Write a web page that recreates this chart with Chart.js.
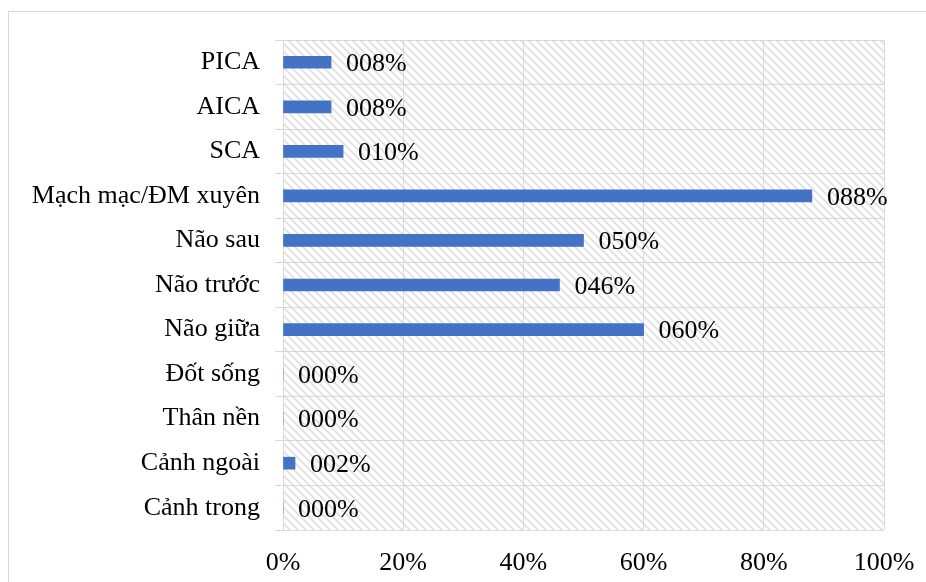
<!DOCTYPE html>
<html>
<head>
<meta charset="utf-8">
<script src="https://cdn.jsdelivr.net/npm/chart.js@4/dist/chart.umd.min.js"></script>
<style>
  html, body { margin: 0; padding: 0; background: #ffffff; }
  #wrap { width: 926px; height: 582px; position: relative; }
</style>
</head>
<body>
<div id="wrap"><canvas id="c" width="926" height="582"></canvas></div>
<script>
// Vessel territories, listed top to bottom
const categories = [
  'PICA', 'AICA', 'SCA', 'Mạch mạc/ĐM xuyên', 'Não sau', 'Não trước',
  'Não giữa', 'Đốt sống', 'Thân nền', 'Cảnh ngoài', 'Cảnh trong'
];
// Share of cases per territory (%)
const percentages = [8, 8, 10, 88, 50, 46, 60, 0, 0, 2, 0];
// Horizontal axis ticks (%)
const tickValues = [0, 20, 40, 60, 80, 100];

const FONT = '"Liberation Serif", "Times New Roman", serif';
const FONT_SIZE = 26;
const GRID = '#d9d9d9';

// Diagonal hatch tile for the plot background
function makeHatch(ctx) {
  const t = document.createElement('canvas');
  t.width = 8; t.height = 8;
  const g = t.getContext('2d');
  g.fillStyle = '#ffffff';
  g.fillRect(0, 0, 8, 8);
  g.strokeStyle = '#e0e0e0';
  g.lineWidth = 1.8;
  g.beginPath();
  g.moveTo(-1, -1); g.lineTo(9, 9);
  g.moveTo(-1, 7); g.lineTo(1, 9);
  g.moveTo(7, -1); g.lineTo(9, 1);
  g.stroke();
  return ctx.createPattern(t, 'repeat');
}

const decor = {
  id: 'decor',
  beforeDraw(chart) {
    const { ctx, chartArea: a } = chart;
    ctx.save();
    ctx.fillStyle = '#ffffff';
    ctx.fillRect(0, 0, chart.width, chart.height);
    ctx.strokeStyle = GRID;
    ctx.lineWidth = 1;
    ctx.strokeRect(8.5, 11.5, 930, 600);
    ctx.fillStyle = makeHatch(ctx);
    ctx.fillRect(a.left, a.top, a.right - a.left, a.bottom - a.top);
    ctx.restore();
  },
  afterDatasetsDraw(chart) {
    const { ctx } = chart;
    const meta = chart.getDatasetMeta(0);
    const vals = chart.data.datasets[0].data;
    ctx.save();
    ctx.font = FONT_SIZE + 'px ' + FONT;
    ctx.fillStyle = '#000000';
    ctx.textAlign = 'left';
    ctx.textBaseline = 'middle';
    meta.data.forEach((bar, i) => {
      const txt = String(Math.round(vals[i])).padStart(3, '0') + '%';
      ctx.fillText(txt, bar.x + 15, bar.y + 2);
    });
    ctx.restore();
  }
};

new Chart(document.getElementById('c'), {
  type: 'bar',
  data: {
    labels: categories,
    datasets: [{
      data: percentages,
      backgroundColor: '#4472C4',
      borderWidth: 0,
      barThickness: 12
    }]
  },
  plugins: [decor],
  options: {
    indexAxis: 'y',
    responsive: false,
    animation: false,
    devicePixelRatio: 1,
    layout: { padding: { top: 40, right: 42, bottom: 0, left: 0 } },
    plugins: { legend: { display: false }, tooltip: { enabled: false } },
    scales: {
      x: {
        min: 0, max: 100,
        afterBuildTicks(s) { s.ticks = tickValues.map(v => ({ value: v })); },
        afterFit(s) { s.height = 52; s.paddingLeft = 0; s.paddingRight = 0; },
        grid: { color: GRID, lineWidth: 1, drawTicks: false },
        border: { display: false },
        ticks: {
          color: '#000000',
          font: { family: FONT, size: FONT_SIZE },
          padding: 18,
          maxRotation: 0,
          callback: v => v + '%'
        }
      },
      y: {
        afterFit(s) { s.width = 283; s.paddingTop = 0; s.paddingBottom = 0; },
        grid: { color: GRID, lineWidth: 1, offset: true, tickLength: 8 },
        border: { display: true, color: GRID, width: 1 },
        ticks: {
          color: '#000000',
          font: { family: FONT, size: FONT_SIZE },
          padding: 15,
          autoSkip: false
        }
      }
    }
  }
});
</script>
</body>
</html>
